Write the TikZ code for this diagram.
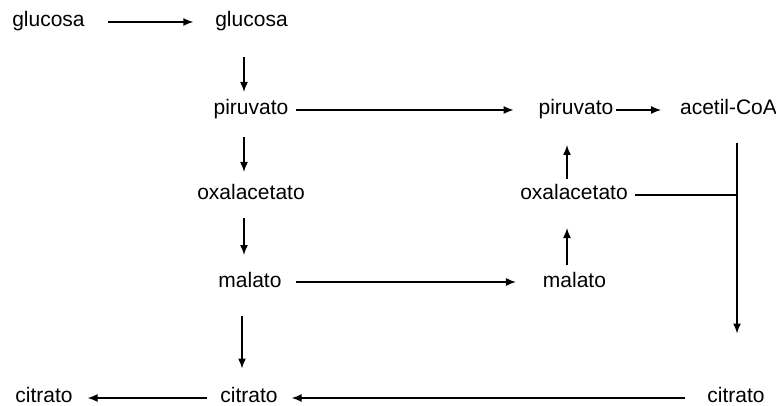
\documentclass[tikz,border=0pt]{standalone}
\usepackage{fontspec}
\setmainfont{Liberation Sans}
\usetikzlibrary{arrows.meta}
\begin{document}
\begin{tikzpicture}[x=1pt,y=-1pt,
  lbl/.style={inner sep=0pt,outer sep=0pt,text height=15pt,text depth=5pt,font=\fontsize{21}{25}\selectfont},
  lblb/.style={lbl,text depth=0pt},
  arr/.style={line width=1.5pt,-{Latex[length=10pt,width=8pt]}},
  ln/.style={line width=1.5pt}]
\useasboundingbox (0,0) rectangle (776,406);
\node[lbl] (g1) at (48.5,22) {glucosa};
\node[lbl] (g2) at (251.5,22) {glucosa};
\node[lbl] (p1) at (251,110) {piruvato};
\node[lbl] (p2) at (576,110) {piruvato};
\node[lbl] (a) at (728.5,110) {acetil-CoA};
\node[lbl] (o1) at (251,195) {oxalacetato};
\node[lbl] (o2) at (574,195) {oxalacetato};
\node[lbl] (m1) at (250,282) {malato};
\node[lbl] (m2) at (574.5,282) {malato};
\node[lblb] (c1) at (44,395) {citrato};
\node[lblb] (c2) at (249,395) {citrato};
\node[lblb] (c3) at (736,395) {citrato};
\coordinate (j) at (737,195);
% horizontal
\draw[arr,shorten <=23pt,shorten >=22pt] (g1) -- (g2);
\draw[arr,shorten <=8pt,shorten >=25pt] (p1) -- (p2);
\draw[arr,shorten <=3pt,shorten >=19pt] (p2) -- (a);
\draw[arr,shorten <=14pt,shorten >=27pt] (m1) -- (m2);
\draw[arr,shorten <=13pt,shorten >=15pt] ([yshift=-3pt]c2.west) -- ([yshift=-3pt]c1.east);
\draw[arr,shorten <=22pt,shorten >=14pt] ([yshift=-3pt]c3.west) -- ([yshift=-3pt]c2.east);
% vertical left column
\draw[arr,shorten <=25pt,shorten >=8pt] ([xshift=-7.5pt]g2.south) -- ([xshift=-7pt]p1.north);
\draw[arr,shorten <=17pt,shorten >=13pt] ([xshift=-7pt]p1.south) -- ([xshift=-7pt]o1.north);
\draw[arr,shorten <=13pt,shorten >=17pt] ([xshift=-7pt]o1.south) -- ([xshift=-6pt]m1.north);
\draw[arr,shorten <=24pt,shorten >=19pt] ([xshift=-8pt]m1.south) -- ([xshift=-7pt]c2.north);
% vertical right column
\draw[arr,shorten <=6pt,shorten >=25pt] ([xshift=-7pt]o2.north) -- ([xshift=-9pt]p2.south);
\draw[arr,shorten <=7pt,shorten >=23pt] ([xshift=-7.5pt]m2.north) -- ([xshift=-7pt]o2.south);
% acetil-CoA to citrato, with oxalacetato joining
\draw[arr,shorten <=23pt,shorten >=54pt] ([xshift=8.5pt]a.south) -- ([xshift=1pt]c3.north);
\draw[ln,shorten <=7pt] (o2) -- (j);
\end{tikzpicture}
\end{document}
